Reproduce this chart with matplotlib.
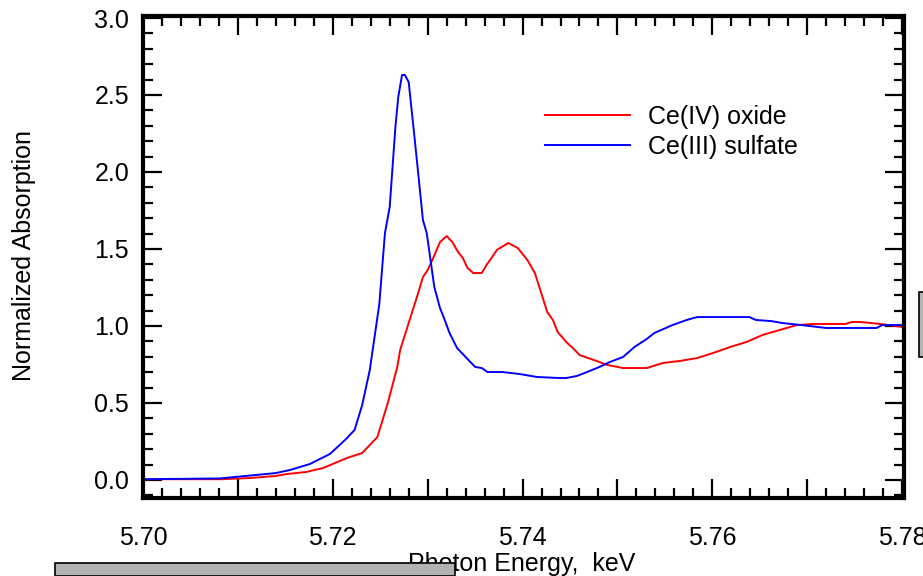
import numpy as np
import matplotlib
matplotlib.use("Agg")
import matplotlib.pyplot as plt
import matplotlib.patches as mpatches
from matplotlib.ticker import MultipleLocator, FuncFormatter

plt.rcParams['font.family'] = ['Liberation Sans', 'DejaVu Sans']

# ─────────────────────────────────────────
# DATA
# ─────────────────────────────────────────
energy_oxide = [5.7000, 5.7084, 5.7113, 5.7140, 5.7152, 5.7172, 5.7190, 5.7200,
                5.7215, 5.7231, 5.7247, 5.7258, 5.7268, 5.7271, 5.7285, 5.7290,
                5.7295, 5.7300, 5.7305, 5.7313, 5.7320, 5.7326, 5.7332, 5.7337,
                5.7342, 5.7348, 5.7357, 5.7362, 5.7368, 5.7373, 5.7385, 5.7395,
                5.7405, 5.7413, 5.7426, 5.7432, 5.7437, 5.7447, 5.7453, 5.7460,
                5.7469, 5.7478, 5.7489, 5.7506, 5.7531, 5.7548, 5.7566, 5.7584,
                5.7601, 5.7619, 5.7636, 5.7653, 5.7671, 5.7689, 5.7706, 5.7740,
                5.7747, 5.7756, 5.7777, 5.7800]
absorb_oxide = [0.005, 0.005, 0.013, 0.026, 0.039, 0.052, 0.078, 0.104,
                0.143, 0.175, 0.279, 0.500, 0.734, 0.844, 1.117, 1.214,
                1.318, 1.364, 1.429, 1.545, 1.584, 1.545, 1.481, 1.442,
                1.377, 1.344, 1.344, 1.396, 1.448, 1.494, 1.539, 1.506,
                1.429, 1.344, 1.091, 1.039, 0.961, 0.890, 0.857, 0.812,
                0.792, 0.773, 0.747, 0.727, 0.727, 0.760, 0.773, 0.792,
                0.825, 0.864, 0.896, 0.942, 0.974, 1.006, 1.013, 1.013,
                1.026, 1.026, 1.013, 0.994]

energy_sulfate = [5.7000, 5.7081, 5.7140, 5.7155, 5.7176, 5.7197, 5.7213, 5.7223,
                  5.7231, 5.7239, 5.7249, 5.7255, 5.7260, 5.7266, 5.7269, 5.7273,
                  5.7276, 5.7280, 5.7285, 5.7290, 5.7295, 5.7299, 5.7303, 5.7307,
                  5.7313, 5.7318, 5.7323, 5.7331, 5.7341, 5.7350, 5.7357, 5.7363,
                  5.7379, 5.7397, 5.7415, 5.7439, 5.7446, 5.7457, 5.7468, 5.7481,
                  5.7492, 5.7506, 5.7518, 5.7531, 5.7539, 5.7558, 5.7573, 5.7584,
                  5.7639, 5.7646, 5.7662, 5.7674, 5.7694, 5.7720, 5.7773, 5.7779,
                  5.7800]
absorb_sulfate = [0.005, 0.010, 0.045, 0.065, 0.104, 0.169, 0.260, 0.325,
                  0.487, 0.714, 1.140, 1.604, 1.773, 2.292, 2.487, 2.630,
                  2.630, 2.584, 2.292, 1.994, 1.688, 1.604, 1.429, 1.253,
                  1.117, 1.039, 0.955, 0.857, 0.792, 0.734, 0.727, 0.701,
                  0.701, 0.688, 0.669, 0.662, 0.662, 0.675, 0.701, 0.734,
                  0.766, 0.799, 0.864, 0.916, 0.955, 1.006, 1.039, 1.058,
                  1.058, 1.039, 1.032, 1.019, 1.006, 0.987, 0.987, 1.006,
                  1.006]

series_labels = ["Ce(IV) oxide", "Ce(III) sulfate"]
x_major_labels = [5.70, 5.72, 5.74, 5.76, 5.78]

FS = 18

# ─────────────────────────────────────────
# PLOT
# ─────────────────────────────────────────
fig = plt.figure(figsize=(9.23, 5.76), dpi=100)
ax = fig.add_axes([143/923, 1 - 498/576, 761/923, 482/576])

ax.plot(energy_oxide, absorb_oxide, color='#ff0000', lw=1.4, label=series_labels[0])
ax.plot(energy_sulfate, absorb_sulfate, color='#0000ff', lw=1.4, label=series_labels[1])

ax.set_xlim(5.70, 5.7802)
ax.set_ylim(-0.117, 3.013)

ax.xaxis.set_major_locator(MultipleLocator(0.01))
ax.xaxis.set_minor_locator(MultipleLocator(0.002))
ax.xaxis.set_major_formatter(FuncFormatter(
    lambda v, p: f"{v:.2f}" if any(abs(v - t) < 1e-6 for t in x_major_labels) else ""))
ax.yaxis.set_major_locator(MultipleLocator(0.5))
ax.yaxis.set_minor_locator(MultipleLocator(0.1))
ax.yaxis.set_major_formatter(FuncFormatter(lambda v, p: f"{v:.1f}"))

ax.tick_params(which='both', direction='in', top=True, right=True, width=1.6,
               labelsize=FS)
ax.tick_params(which='major', length=14)
ax.tick_params(which='minor', length=7)
ax.tick_params(axis='x', pad=20)
ax.tick_params(axis='y', pad=10)
for s in ax.spines.values():
    s.set_linewidth(3)

ax.set_xlabel("Photon Energy,  keV", fontsize=FS)
ax.set_ylabel("Normalized Absorption", fontsize=FS)
ax.xaxis.set_label_coords(0.497, -0.112)
ax.yaxis.set_label_coords(-0.140, 0.504)

ax.legend(loc='center left', bbox_to_anchor=(545/923, 1 - 132/576),
          bbox_transform=fig.transFigure, frameon=False, fontsize=FS,
          borderpad=0, borderaxespad=0, handlelength=3.4, handletextpad=0.7,
          labelspacing=0.25)

# leftover grey boxes from the original page
fig.add_artist(mpatches.Rectangle((55/923, 0), 400/923, 13/576,
                                  transform=fig.transFigure, facecolor='#b3b3b3',
                                  edgecolor='black', lw=1.2, zorder=10))
fig.add_artist(mpatches.Rectangle((919/923, 1 - 357/576), 10/923, 65/576,
                                  transform=fig.transFigure, facecolor='#b3b3b3',
                                  edgecolor='black', lw=1.2, zorder=10))

plt.savefig("out.png", dpi=100)
